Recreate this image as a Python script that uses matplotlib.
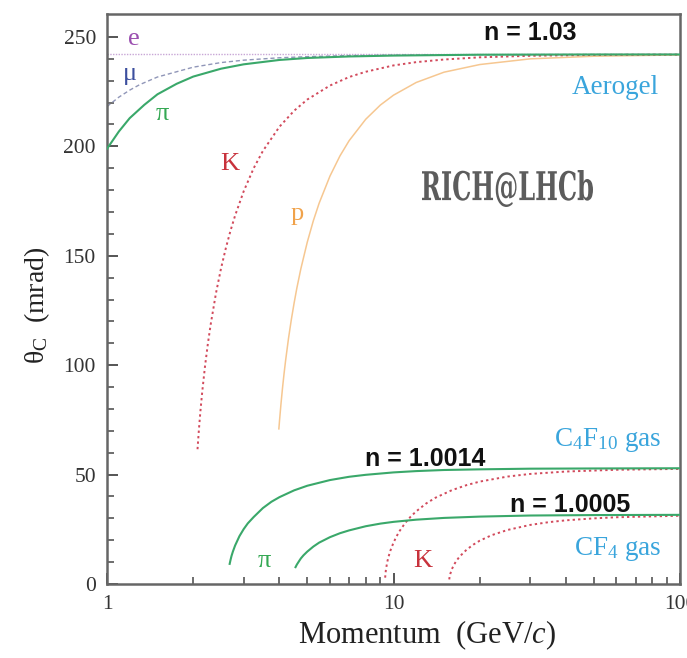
import matplotlib
matplotlib.use("Agg")
import matplotlib.pyplot as plt
from matplotlib.ticker import FixedLocator, NullFormatter
from matplotlib.textpath import TextPath
from matplotlib.patches import PathPatch
from matplotlib.font_manager import FontProperties
from matplotlib.transforms import Affine2D

plt.rcParams["mathtext.fontset"] = "custom"
plt.rcParams["mathtext.rm"] = "Liberation Serif"
plt.rcParams["mathtext.it"] = "Liberation Serif:italic"

# Cherenkov angle (mrad) vs momentum (GeV/c)
# aerogel, n = 1.03
e_p = [1.0, 100.0]
e_th = [242.0, 242.0]

mu_p = [1.0, 1.1, 1.2, 1.3, 1.5, 2.0, 2.5, 3.0, 4.0, 5.0, 7.0, 10.0, 20.0, 50.0, 100.0]
mu_th = [218.2, 222.5, 225.7, 228.2, 231.7, 236.2, 238.3, 239.4, 240.5, 241.0, 241.5, 241.7,
         241.9, 242.0, 242.0]

pi_aero_p = [1.0, 1.1, 1.2, 1.35, 1.5, 1.75, 2.0, 2.5, 3.0, 4.0, 5.0, 7.0, 10.0, 20.0, 50.0, 100.0]
pi_aero_th = [198.9, 206.8, 212.9, 219.0, 223.8, 228.6, 231.9, 235.5, 237.5, 239.5, 240.4, 241.1,
              241.5, 241.9, 242.0, 242.0]

k_aero_p = [2.07, 2.09, 2.1, 2.12, 2.15, 2.2, 2.25, 2.3, 2.4, 2.5, 2.6, 2.7, 2.8, 3.0, 3.25, 3.5,
            4.0, 4.5, 5.0, 6.0, 7.0, 8.0, 10.0, 12.0, 15.0, 20.0, 30.0, 50.0, 100.0]
k_aero_th = [61.6, 69.4, 72.9, 79.4, 87.9, 99.9, 109.9, 118.5, 132.8, 144.2, 153.6, 161.6, 168.4,
             179.5, 190.0, 197.9, 209.0, 216.3, 221.4, 227.8, 231.7, 234.1, 237.0, 238.5, 239.7,
             240.7, 241.4, 241.8, 241.95]

p_aero_p = [3.98, 4.0, 4.05, 4.1, 4.15, 4.2, 4.3, 4.4, 4.5, 4.6, 4.75, 5.0, 5.25, 5.5, 6.0, 6.5,
            7.0, 8.0, 9.0, 10.0, 12.0, 15.0, 20.0, 30.0, 50.0, 100.0]
p_aero_th = [70.9, 74.5, 82.6, 89.8, 96.2, 102.0, 112.2, 120.9, 128.5, 135.3, 144.1, 156.2, 166.0,
             174.0, 186.4, 195.6, 202.6, 212.4, 218.9, 223.4, 229.2, 233.9, 237.4, 240.0, 241.2,
             241.8]

# C4F10 gas, n = 1.0014
pi_c4_p = [2.68, 2.7, 2.72, 2.75, 2.8, 2.9, 3.0, 3.1, 3.25, 3.5, 3.75, 4.0, 4.5, 5.0, 6.0, 7.0,
           8.0, 10.0, 12.0, 15.0, 20.0, 30.0, 50.0, 100.0]
pi_c4_th = [9.2, 11.1, 12.8, 14.8, 17.6, 21.9, 25.1, 27.7, 30.6, 34.7, 37.6, 39.7, 42.8, 44.9,
            47.5, 49.0, 49.9, 51.0, 51.6, 52.1, 52.4, 52.7, 52.8, 52.9]

k_c4_p = [9.35, 9.4, 9.5, 9.6, 9.75, 10.0, 10.25, 10.5, 11.0, 11.5, 12.0, 13.0, 14.0, 16.0, 18.0,
          20.0, 25.0, 30.0, 40.0, 60.0, 100.0]
k_c4_th = [2.9, 6.1, 9.8, 12.3, 15.2, 18.9, 21.8, 24.2, 28.0, 30.9, 33.2, 36.8, 39.4, 42.9, 45.2,
           46.8, 49.1, 50.3, 51.4, 52.2, 52.6]

# CF4 gas, n = 1.0005
pi_cf4_p = [4.55, 4.6, 4.7, 4.75, 4.85, 5.0, 5.25, 5.5, 6.0, 6.5, 7.0, 8.0, 9.0, 10.0, 12.0,
            15.0, 20.0, 30.0, 50.0, 100.0]
pi_cf4_th = [7.7, 8.9, 10.8, 11.7, 13.1, 14.8, 17.1, 18.9, 21.4, 23.2, 24.5, 26.4, 27.6, 28.4,
             29.4, 30.2, 30.8, 31.3, 31.5, 31.6]

k_cf4_p = [15.65, 15.7, 15.8, 16.0, 16.25, 16.5, 17.0, 18.0, 19.0, 20.0, 22.0, 25.0, 30.0, 35.0,
           40.0, 50.0, 60.0, 100.0]
k_cf4_th = [2.1, 3.3, 4.8, 6.9, 8.7, 10.2, 12.5, 15.7, 18.0, 19.8, 22.3, 24.7, 27.0, 28.3, 29.1,
            30.0, 30.5, 31.2]

GREEN = "#3aa86a"
RED = "#d24a5c"
ORANGE = "#f6c791"
BLUE_TXT = "#3aa5dc"
SERIF = "Liberation Serif"

W, H = 687, 658
fig = plt.figure(figsize=(W / 100, H / 100), dpi=100)
ax = fig.add_axes([107 / W, 1 - 584 / H, (680 - 107) / W, (584 - 14) / H])

ax.plot(e_p, e_th, color="#c8a6d6", lw=1.0, ls=(0, (1, 1)), zorder=2)
ax.plot(mu_p, mu_th, color="#9096b8", lw=1.0, ls=(0, (3, 2)), zorder=2)
ax.plot(p_aero_p, p_aero_th, color=ORANGE, lw=1.1, zorder=2)
for xs, ys in [(k_aero_p, k_aero_th), (k_c4_p, k_c4_th), (k_cf4_p, k_cf4_th)]:
    ax.plot(xs, ys, color=RED, lw=1.4, ls=(0, (1.2, 1.6)), zorder=3)
for xs, ys in [(pi_aero_p, pi_aero_th), (pi_c4_p, pi_c4_th), (pi_cf4_p, pi_cf4_th)]:
    ax.plot(xs, ys, color=GREEN, lw=1.5, zorder=4)

ax.set_xscale("log")
ax.set_xlim(1, 100)
ax.set_ylim(0, 260.5)

ax.xaxis.set_major_locator(FixedLocator([1, 10, 100]))
ax.xaxis.set_minor_locator(FixedLocator([2, 3, 4, 5, 6, 7, 8, 9, 20, 30, 40, 50, 60, 70, 80, 90]))
ax.xaxis.set_minor_formatter(NullFormatter())
ax.set_xticklabels(["1", "10", "100"])
ax.yaxis.set_major_locator(FixedLocator([0, 50, 100, 150, 200, 250]))
ax.yaxis.set_minor_locator(FixedLocator(list(range(10, 260, 10))))

ax.tick_params(which="both", direction="in", colors="#555555", labelcolor="#333333",
               top=False, right=False)
ax.tick_params(which="major", length=8, width=1.4, labelsize=15.5, pad=8)
ax.tick_params(axis="x", which="major", pad=8)
ax.tick_params(which="minor", length=5, width=1.2)
for lab in ax.get_xticklabels() + ax.get_yticklabels():
    lab.set_fontfamily(SERIF)
for sp in ax.spines.values():
    sp.set_color("#666666")
    sp.set_linewidth(1.8)

ax.set_xlabel("Momentum  (GeV/$\\mathit{c}$)", fontsize=22, family=SERIF, color="#222222")
ax.xaxis.set_label_coords(0.558, -0.06)
ax.set_ylabel("$\\mathregular{\\theta_C}$  (mrad)", fontsize=20, family=SERIF, color="#222222")
ax.yaxis.set_label_coords(-0.096, 0.489)

lab_kw = dict(fontsize=19, family=SERIF, ha="center", va="center")
ax.text(1.24, 249, "e", color="#9b4fb0", **lab_kw)
ax.text(1.20, 233, "μ", color="#3c4f9e", **lab_kw)
ax.text(1.56, 215, "π", color="#34a853", **lab_kw)
ax.text(2.69, 192, "K", color="#c8323c", **lab_kw)
ax.text(4.61, 169, "p", color="#f0a24a", **lab_kw)
ax.text(3.53, 10.5, "π", color="#34a853", **lab_kw)
ax.text(12.68, 10.5, "K", color="#c8323c", **lab_kw)

gas_kw = dict(fontsize=19.5, family=SERIF, ha="center", va="center", color=BLUE_TXT)
ax.text(59.5, 227, "Aerogel", **gas_kw)
ax.text(56.1, 66, "C$_\\mathregular{4}$F$_\\mathregular{10}$ gas", **gas_kw)
ax.text(60.7, 16, "CF$_\\mathregular{4}$ gas", **gas_kw)

n_kw = dict(fontsize=18, family="Liberation Sans", weight="bold", ha="center", va="center",
            color="#111111")
ax.text(29.9, 252, "n = 1.03", **n_kw)
ax.text(12.9, 57, "n = 1.0014", **n_kw)
ax.text(41.2, 36, "n = 1.0005", **n_kw)

# condensed watermark text: squeeze a text path into the box it takes in the picture
tp = TextPath((0, 0), "RICH@LHCb", size=40,
              prop=FontProperties(family="DejaVu Serif", weight="bold"))
bb = tp.get_extents()
x0, x1, y0, y1 = 422 / W, 593 / W, 1 - 207 / H, 1 - 170 / H
tr = (Affine2D().translate(-bb.x0, -bb.y0)
      .scale((x1 - x0) / bb.width, (y1 - y0) / bb.height)
      .translate(x0, y0) + fig.transFigure)
fig.patches.append(PathPatch(tp, transform=tr, facecolor="#5c5c5c", edgecolor="none"))

fig.savefig("out.png", dpi=100)
